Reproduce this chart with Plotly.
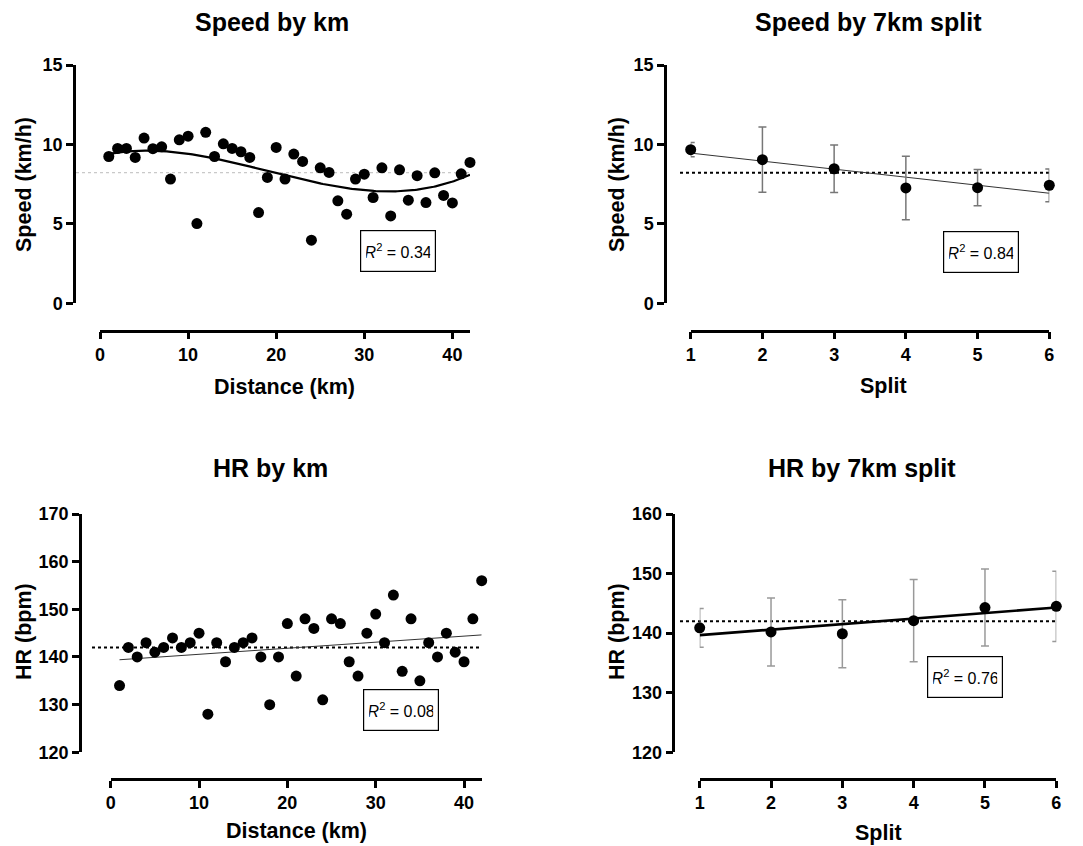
import numpy as np
import plotly.graph_objects as go

# page body has an 8px default margin; the figure is sized to the remaining area
OFF = 8
W, H = 1083 - OFF, 846 - OFF

# ---------------- data ----------------
km = list(range(1, 43))
speed_km = [9.24, 9.75, 9.75, 9.18, 10.4, 9.73, 9.85, 7.82, 10.29, 10.52,
            5.02, 10.76, 9.24, 10.04, 9.75, 9.54, 9.18, 5.71, 7.92, 9.81,
            7.82, 9.39, 8.93, 3.97, 8.53, 8.24, 6.45, 5.61, 7.82, 8.13,
            6.66, 8.53, 5.50, 8.40, 6.49, 8.03, 6.34, 8.21, 6.79, 6.32,
            8.15, 8.87]
hr_km = [134, 142, 140, 143, 141, 142, 144, 142, 143, 145,
         128, 143, 139, 142, 143, 144, 140, 130, 140, 147,
         136, 148, 146, 131, 148, 147, 139, 136, 145, 149,
         143, 153, 137, 148, 135, 143, 140, 145, 141, 139,
         148, 156]

split = [1, 2, 3, 4, 5, 6]
speed_split = [9.67, 9.04, 8.47, 7.26, 7.28, 7.43]
speed_split_sd = [0.45, 2.05, 1.5, 2.0, 1.14, 1.03]
hr_split = [140.9, 140.2, 139.9, 142.1, 144.3, 144.5]
hr_split_sd = [3.25, 5.7, 5.7, 6.9, 6.45, 5.9]

speed_mean = 8.22
hr_mean = 142.0

r2_labels = ["0.34", "0.84", "0.08", "0.76"]
titles = ["Speed by km", "Speed by 7km split", "HR by km", "HR by 7km split"]
x_titles = ["Distance (km)", "Split", "Distance (km)", "Split"]
y_titles = ["Speed (km/h)", "Speed (km/h)", "HR (bpm)", "HR (bpm)"]
km_ticks = [0, 10, 20, 30, 40]
speed_ticks = [0, 5, 10, 15]
hr_km_ticks = [120, 130, 140, 150, 160, 170]
hr_split_ticks = [120, 130, 140, 150, 160]

# ---------------- helpers ----------------
def px(x):
    return (x - OFF) / W

def py(y):
    return 1 - (y - OFF) / H

FONT = "Liberation Sans, Arial, sans-serif"
tickfont = dict(family=FONT, size=18, color="black", weight="bold")

fig = go.Figure()

marker = dict(color="black", size=11)

# fits
xs_fine = np.linspace(1, 42, 200)
c3 = np.polyfit(km, speed_km, 3)
curve_speed = np.polyval(c3, xs_fine)
c_hr = np.polyfit(km, hr_km, 1)
c_ss = np.polyfit(split, speed_split, 1)
c_hs = np.polyfit(split, hr_split, 1)

# Panel 1
fig.add_trace(go.Scatter(x=xs_fine, y=curve_speed, mode="lines",
                         line=dict(color="black", width=2.2),
                         xaxis="x", yaxis="y", showlegend=False))
fig.add_trace(go.Scatter(x=km, y=speed_km, mode="markers", marker=marker,
                         cliponaxis=False, xaxis="x", yaxis="y", showlegend=False))
# Panel 2
fig.add_trace(go.Scatter(x=[1, 6], y=list(np.polyval(c_ss, [1, 6])), mode="lines",
                         line=dict(color="#333", width=1),
                         xaxis="x2", yaxis="y2", showlegend=False))
fig.add_trace(go.Scatter(x=split, y=speed_split, mode="markers", marker=marker,
                         error_y=dict(type="data", array=speed_split_sd, color="#777",
                                      thickness=1.5, width=4),
                         cliponaxis=False, xaxis="x2", yaxis="y2", showlegend=False))
# Panel 3
fig.add_trace(go.Scatter(x=[1, 42], y=list(np.polyval(c_hr, [1, 42])), mode="lines",
                         line=dict(color="#333", width=1),
                         xaxis="x3", yaxis="y3", showlegend=False))
fig.add_trace(go.Scatter(x=km, y=hr_km, mode="markers", marker=marker,
                         cliponaxis=False, xaxis="x3", yaxis="y3", showlegend=False))
# Panel 4
fig.add_trace(go.Scatter(x=split, y=hr_split, mode="markers", marker=marker,
                         error_y=dict(type="data", array=hr_split_sd, color="#999",
                                      thickness=1.5, width=4),
                         cliponaxis=False, xaxis="x4", yaxis="y4", showlegend=False))
fig.add_trace(go.Scatter(x=[1, 6], y=list(np.polyval(c_hs, [1, 6])), mode="lines",
                         line=dict(color="black", width=2.6),
                         xaxis="x4", yaxis="y4", showlegend=False))

def xax(dom, rng, pos, ticks):
    return dict(domain=[px(dom[0]), px(dom[1])], range=rng, anchor="free",
                position=py(pos), showline=True, linecolor="black", linewidth=2.5,
                ticks="outside", ticklen=7, tickwidth=2.5, tickcolor="black",
                tickvals=ticks, tickfont=tickfont, showgrid=False, zeroline=False,
                fixedrange=True, automargin=False)

def yax(dom, rng, pos, ticks):
    return dict(domain=[py(dom[1]), py(dom[0])], range=rng, anchor="free",
                position=px(pos), showline=True, linecolor="black", linewidth=2.5,
                ticks="outside", ticklen=7, tickwidth=2.5, tickcolor="black",
                tickvals=ticks, tickfont=tickfont, showgrid=False, zeroline=False,
                fixedrange=True, automargin=False)

fig.update_layout(
    xaxis=xax((100, 470), [0, 42], 330.5, km_ticks),
    yaxis=yax((65, 303.3), [0, 15], 74, speed_ticks),
    xaxis2=xax((690.7, 1049.3), [1, 6], 330.5, split),
    yaxis2=yax((65, 303.3), [0, 15], 665, speed_ticks),
    xaxis3=xax((110.7, 481.7), [0, 42], 779, km_ticks),
    yaxis3=yax((514, 752.3), [120, 170], 80, hr_km_ticks),
    xaxis4=xax((699.7, 1056.3), [1, 6], 779, split),
    yaxis4=yax((514, 752.3), [120, 160], 673.3, hr_split_ticks),
)

# mean lines
shapes = [
    dict(type="line", xref="paper", yref="y", x0=px(76), x1=px(470),
         y0=speed_mean, y1=speed_mean, line=dict(color="#bbbbbb", width=1, dash="dot")),
    dict(type="line", xref="paper", yref="y2", x0=px(680), x1=px(1050),
         y0=speed_mean, y1=speed_mean, line=dict(color="black", width=2, dash="dot")),
    dict(type="line", xref="paper", yref="y3", x0=px(92), x1=px(482),
         y0=hr_mean, y1=hr_mean, line=dict(color="black", width=2, dash="dot")),
    dict(type="line", xref="paper", yref="y4", x0=px(680), x1=px(1056),
         y0=hr_mean, y1=hr_mean, line=dict(color="black", width=2, dash="dot")),
]
fig.update_layout(shapes=[dict(layer="below", **s) for s in shapes])

ann = []
title_pos = [(272, 22), (868, 22), (270, 468), (862, 468)]
for t, (x, y) in zip(titles, title_pos):
    ann.append(dict(text=f"<b>{t}</b>", x=px(x), y=py(y), xref="paper", yref="paper",
                    showarrow=False, xanchor="center", yanchor="middle",
                    font=dict(family=FONT, size=25, color="black")))
xt_pos = [(284, 387), (883, 386), (296, 831), (878, 833)]
for t, (x, y) in zip(x_titles, xt_pos):
    ann.append(dict(text=f"<b>{t}</b>", x=px(x), y=py(y), xref="paper", yref="paper",
                    showarrow=False, xanchor="center", yanchor="middle",
                    font=dict(family=FONT, size=21.5, color="black")))
yt_pos = [(24, 185), (617, 185), (24, 632), (617, 632)]
for t, (x, y) in zip(y_titles, yt_pos):
    ann.append(dict(text=f"<b>{t}</b>", x=px(x), y=py(y), xref="paper", yref="paper",
                    showarrow=False, xanchor="center", yanchor="middle", textangle=-90,
                    font=dict(family=FONT, size=21.5, color="black")))
box_pos = [(398, 251), (981, 252), (400.5, 710), (965, 677)]
for t, (x, y) in zip(r2_labels, box_pos):
    ann.append(dict(text=f"<i>R</i><sup>2</sup> = {t}", x=px(x), y=py(y),
                    xref="paper", yref="paper", showarrow=False,
                    xanchor="center", yanchor="middle",
                    font=dict(family=FONT, size=16, color="black"),
                    bordercolor="black", borderwidth=1.2, borderpad=5, bgcolor="white",
                    width=64, height=30))
fig.update_layout(annotations=ann)

fig.update_layout(width=W, height=H, autosize=False,
                  margin=dict(l=0, r=0, t=0, b=0, autoexpand=False),
                  paper_bgcolor="white", plot_bgcolor="white",
                  font=dict(family=FONT, color="black"))

fig.write_html("out.html")
